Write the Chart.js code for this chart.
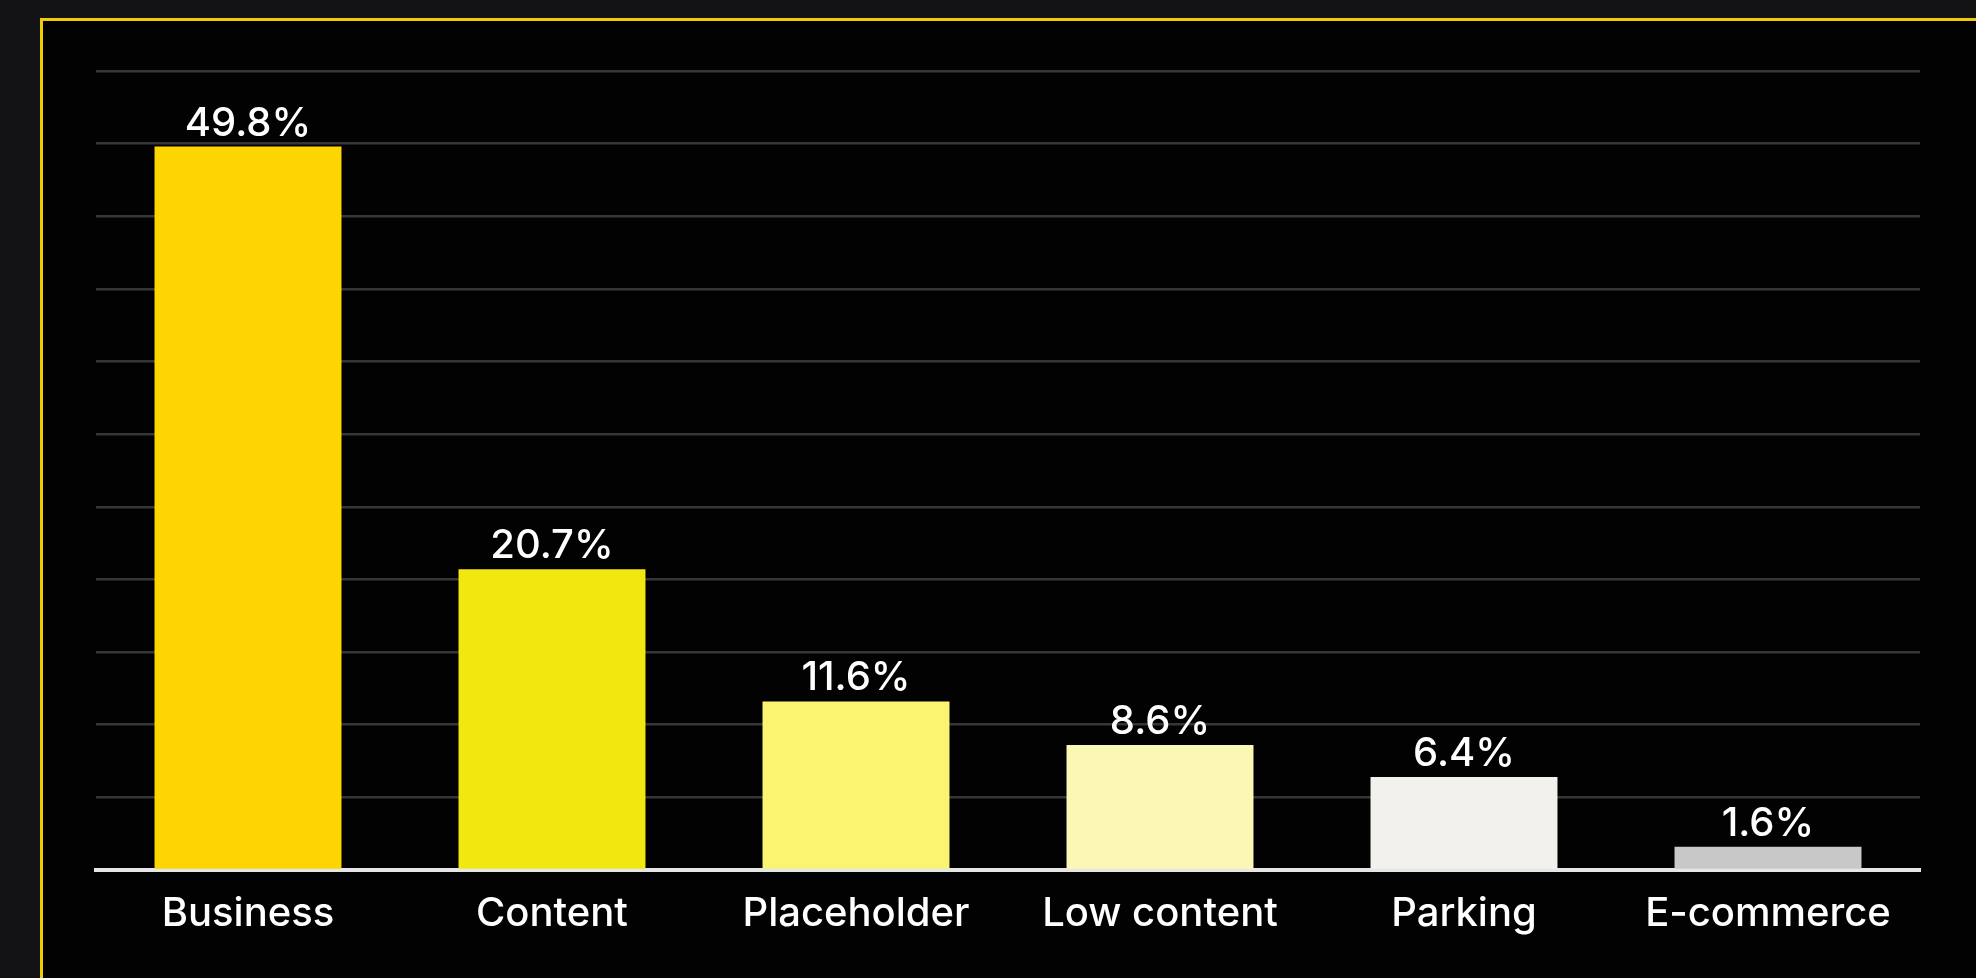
<!DOCTYPE html>
<html>
<head>
<meta charset="utf-8">
<script src="https://cdn.jsdelivr.net/npm/chart.js@4"></script>
<style>
  html, body { margin: 0; padding: 0; }
  body { width: 1976px; height: 978px; background: #131215; overflow: hidden; position: relative; }
  #frame { position: absolute; left: 40px; top: 18px; width: 1960px; height: 1000px; border: 3px solid #f3cc00; background: #020203; box-sizing: border-box; }
  #wrap { position: absolute; left: 0; top: 0; width: 1976px; height: 978px; }
</style>
</head>
<body>
<div id="frame"></div>
<div id="wrap"><canvas id="chart"></canvas></div>
<script>
// data
const categories = ['Business', 'Content', 'Placeholder', 'Low content', 'Parking', 'E-commerce'];
const shares = [49.8, 20.7, 11.6, 8.6, 6.4, 1.6];
const barColors = ['#fdd500', '#f0e80f', '#fbf470', '#fbf7b5', '#f2f1ee', '#c8c8c8'];

// value labels above the bars
const valueLabels = {
  id: 'valueLabels',
  afterDatasetsDraw(chart) {
    const ctx = chart.ctx;
    const meta = chart.getDatasetMeta(0);
    ctx.save();
    ctx.fillStyle = '#ffffff';
    ctx.font = '500 40px Inter';
    ctx.textAlign = 'center';
    ctx.textBaseline = 'alphabetic';
    meta.data.forEach((bar, i) => {
      ctx.fillText(shares[i].toFixed(1) + '%', bar.x, bar.y - 11);
    });
    ctx.restore();
  }
};

new Chart(document.getElementById('chart'), {
  type: 'bar',
  data: {
    labels: categories,
    datasets: [{
      data: shares,
      backgroundColor: barColors,
      borderWidth: 0,
      categoryPercentage: 1,
      barPercentage: 0.615
    }]
  },
  options: {
    responsive: true,
    maintainAspectRatio: false,
    animation: false,
    layout: { padding: { left: 96, right: 56, top: 71, bottom: 28 } },
    plugins: { legend: { display: false }, tooltip: { enabled: false } },
    scales: {
      x: {
        grid: { display: false },
        border: { display: true, color: '#e6e6e6', width: 4 },
        ticks: { color: '#ffffff', font: { family: 'Inter', size: 40, weight: '500' }, padding: 12 }
      },
      y: {
        min: 0,
        max: 55,
        ticks: { display: false, stepSize: 5 },
        border: { display: false },
        grid: { color: '#363636', lineWidth: 2.5, drawTicks: false }
      }
    }
  },
  plugins: [valueLabels]
});
</script>
</body>
</html>
